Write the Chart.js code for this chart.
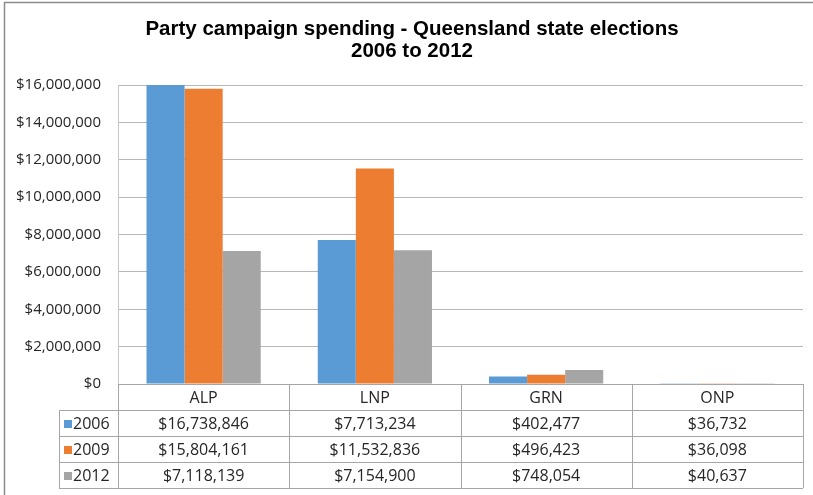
<!DOCTYPE html>
<html>
<head>
<meta charset="utf-8">
<script src="https://cdn.jsdelivr.net/npm/chart.js@4/dist/chart.umd.min.js"></script>
<style>
  html, body { margin: 0; padding: 0; background: #fff; }
  #wrap { width: 813px; height: 495px; }
</style>
</head>
<body>
<div id="wrap"><canvas id="chart" width="813" height="495"></canvas></div>
<script>
// Chart data
const parties = ['ALP', 'LNP', 'GRN', 'ONP'];
const years = ['2006', '2009', '2012'];
const spend2006 = [16738846, 7713234, 402477, 36732];
const spend2009 = [15804161, 11532836, 496423, 36098];
const spend2012 = [7118139, 7154900, 748054, 40637];
const seriesColors = ['#5B9BD5', '#ED7D31', '#A5A5A5'];

const money = v => '$' + Math.round(v).toLocaleString('en-US');
const tickFont = '"Open Sans", "DejaVu Sans", sans-serif';

// Outer frame of the chart object; nudge the title a little right like the original
const framePlugin = {
  id: 'frame',
  afterLayout(chart) {
    if (chart.titleBlock) chart.titleBlock.left += 21;
  },
  beforeDraw(chart) {
    const ctx = chart.ctx;
    ctx.save();
    ctx.fillStyle = '#fff';
    ctx.fillRect(0, 0, chart.width, chart.height);
    ctx.strokeStyle = '#8c8c8c';
    ctx.lineWidth = 1.5;
    ctx.strokeRect(4.5, 2.5, chart.width + 20, chart.height + 20);
    ctx.restore();
  }
};

// Data table under the plot, aligned with the category scale
const dataTablePlugin = {
  id: 'dataTable',
  afterDraw(chart) {
    const ctx = chart.ctx;
    const area = chart.chartArea;
    const x = chart.scales.x;
    const rowH = 26;
    const top = area.bottom;
    const legendLeft = 59;
    const n = parties.length;
    const colW = (area.right - area.left) / n;

    ctx.save();
    ctx.strokeStyle = '#a6a6a6';
    ctx.lineWidth = 1;

    const line = (x1, y, x2) => {
      ctx.beginPath();
      ctx.moveTo(x1, Math.round(y) + 0.5);
      ctx.lineTo(x2, Math.round(y) + 0.5);
      ctx.stroke();
    };
    const vline = (xx, y1, y2) => {
      ctx.beginPath();
      ctx.moveTo(Math.round(xx) + 0.5, y1);
      ctx.lineTo(Math.round(xx) + 0.5, y2);
      ctx.stroke();
    };
    line(area.left, top, area.right);
    for (let r = 1; r <= years.length + 1; r++) {
      line(legendLeft, top + r * rowH, area.right);
    }
    const bottom = top + (years.length + 1) * rowH;
    vline(legendLeft, top + rowH, bottom);
    for (let c = 0; c <= n; c++) {
      vline(area.left + c * colW, top, bottom);
    }

    ctx.fillStyle = '#262626';
    ctx.font = '16px ' + tickFont;
    ctx.textAlign = 'center';
    ctx.textBaseline = 'middle';
    parties.forEach((p, i) => {
      ctx.fillText(p, x.getPixelForValue(i), top + rowH / 2 + 1);
    });

    chart.data.datasets.forEach((ds, r) => {
      const cy = top + (r + 1) * rowH + rowH / 2 + 1;
      ctx.fillStyle = ds.backgroundColor;
      ctx.fillRect(legendLeft + 5, cy - 4, 8, 8);
      ctx.fillStyle = '#262626';
      ctx.textAlign = 'left';
      ctx.fillText(ds.label, legendLeft + 14, cy);
      ctx.textAlign = 'center';
      ds.data.forEach((v, i) => {
        ctx.fillText(money(v), x.getPixelForValue(i), cy);
      });
    });
    ctx.restore();
  }
};

new Chart(document.getElementById('chart'), {
  type: 'bar',
  data: {
    labels: parties,
    datasets: [
      { label: years[0], data: spend2006, backgroundColor: seriesColors[0] },
      { label: years[1], data: spend2009, backgroundColor: seriesColors[1] },
      { label: years[2], data: spend2012, backgroundColor: seriesColors[2] }
    ]
  },
  options: {
    responsive: false,
    animation: false,
    layout: { padding: { left: 0, right: 10, top: 0, bottom: 111 } },
    datasets: {
      bar: { categoryPercentage: 0.667, barPercentage: 1.0, borderWidth: 0 }
    },
    plugins: {
      legend: { display: false },
      tooltip: { enabled: false },
      title: {
        display: true,
        text: ['Party campaign spending - Queensland state elections', '2006 to 2012'],
        color: '#000',
        font: { family: '"Liberation Sans", Arial, sans-serif', size: 20.5, weight: 'bold', lineHeight: 1.1 },
        padding: { top: 18, bottom: 22 }
      }
    },
    scales: {
      x: {
        display: false
      },
      y: {
        min: 0,
        max: 16000000,
        afterFit(scale) { scale.width = 118; },
        ticks: {
          stepSize: 2000000,
          color: '#262626',
          padding: 17,
          font: { family: tickFont, size: 15 },
          callback: v => money(v)
        },
        grid: { color: '#b7b7b7', drawTicks: false },
        border: { display: true, color: '#c8c8c8' }
      }
    }
  },
  plugins: [framePlugin, dataTablePlugin]
});
</script>
</body>
</html>
